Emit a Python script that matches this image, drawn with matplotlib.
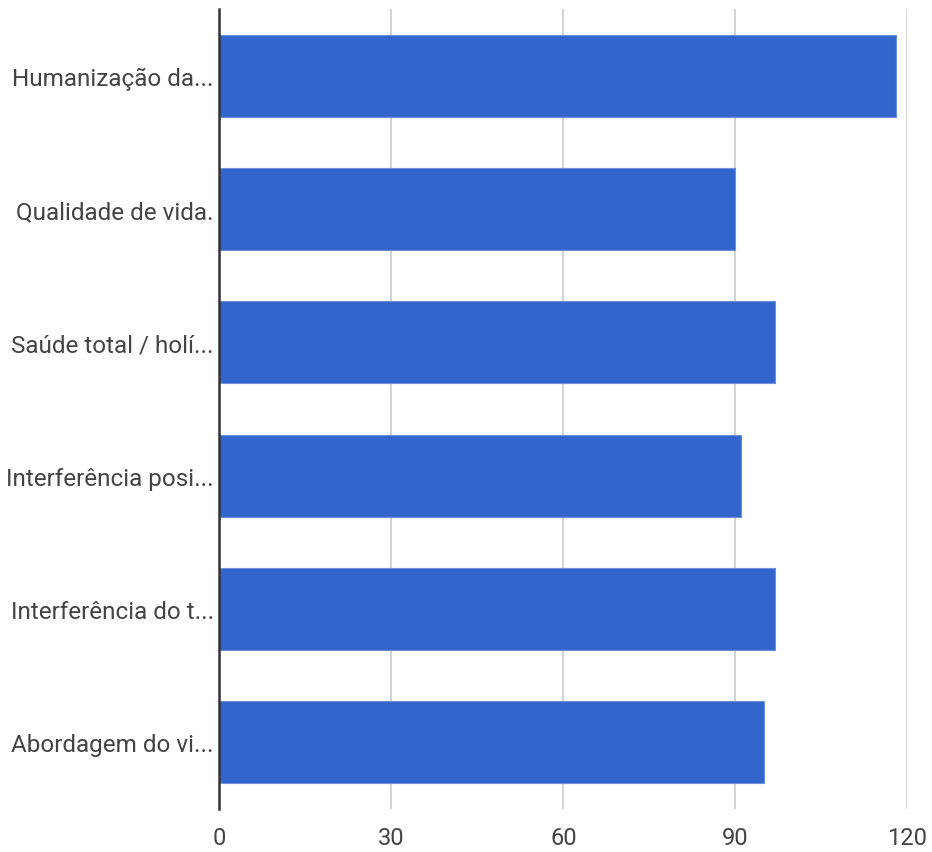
import matplotlib.pyplot as plt

# categories top to bottom, as shown on the axis
labels = [
    "Humanização da...",
    "Qualidade de vida.",
    "Saúde total / holí...",
    "Interferência posi...",
    "Interferência do t...",
    "Abordagem do vi...",
]
values = [118, 90, 97, 91, 97, 95]
ticks = [0, 30, 60, 90, 120]

plt.rcParams['font.family'] = ['Roboto', 'DejaVu Sans']

fig = plt.figure(figsize=(9.32, 8.53), dpi=100)
ax = fig.add_axes([0.2355, 0.0504, 0.738, 0.9379])

pos = list(range(len(labels)))
ax.barh(pos, values, height=0.615, color="#3366cc", edgecolor="#6d8fd9",
        linewidth=0.8, zorder=3)

ax.set_ylim(len(labels) - 0.5, -0.5)
ax.set_xlim(0, 120)
ax.set_xticks(ticks)
ax.set_yticks(pos)
ax.set_yticklabels(labels)

ax.grid(axis="x", color="#cccccc", linewidth=1.2, zorder=0)
for s in ["top", "right", "bottom"]:
    ax.spines[s].set_visible(False)
ax.spines["left"].set_color("#333333")
ax.spines["left"].set_linewidth(1.8)
ax.spines["left"].set_zorder(4)

ax.tick_params(axis="both", length=0, labelcolor="#444444")
ax.tick_params(axis="y", pad=4, labelsize=17.5)
ax.tick_params(axis="x", pad=12, labelsize=17)

fig.savefig("out.png", dpi=100)
